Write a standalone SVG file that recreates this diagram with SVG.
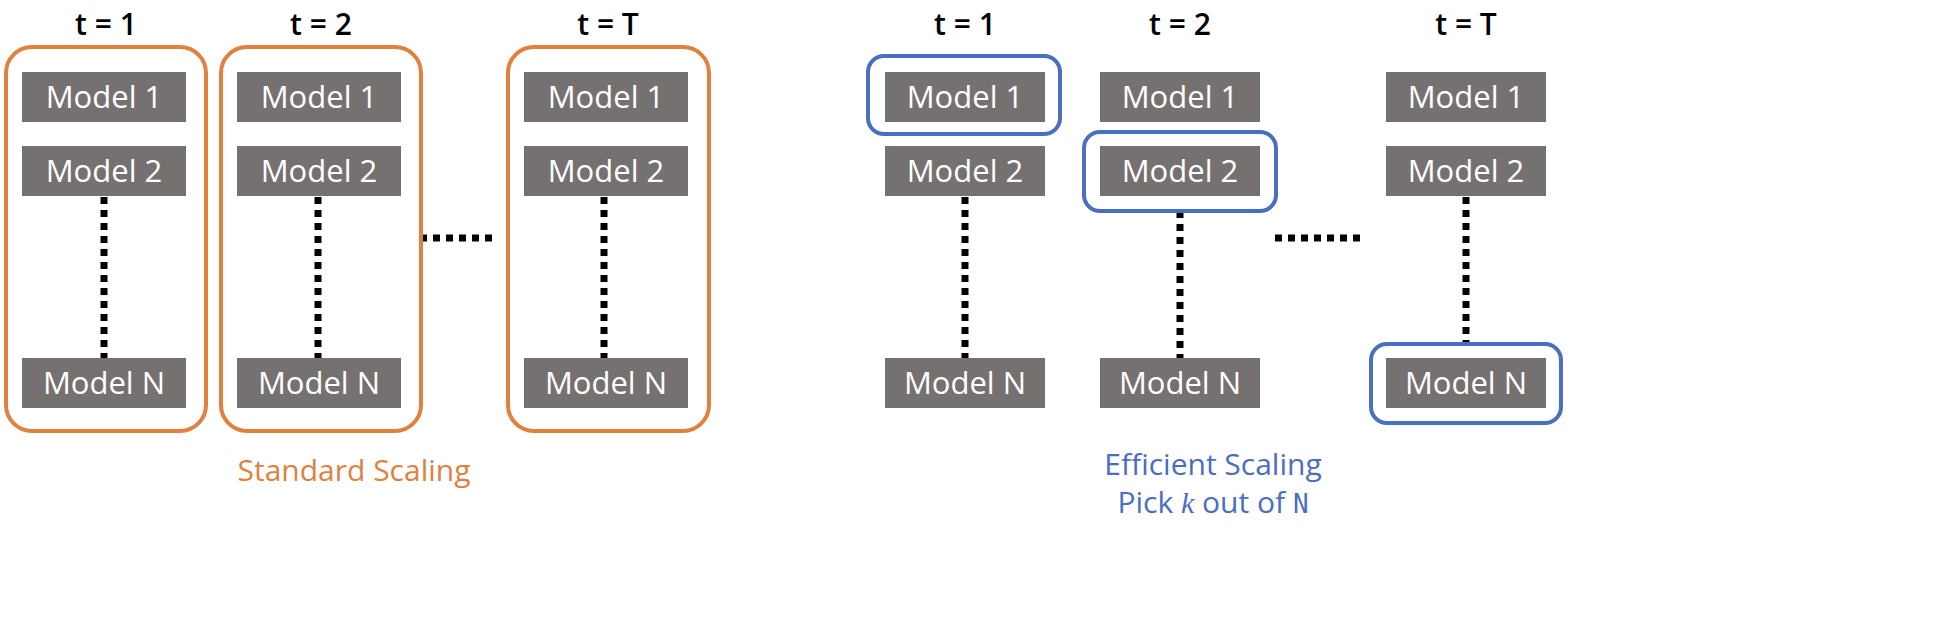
<svg xmlns="http://www.w3.org/2000/svg" width="1937" height="640" viewBox="0 0 1937 640">
<style>
.m{fill:#767171}
.mt{fill:#fff;font-family:"Open Sans","Liberation Sans",sans-serif;font-size:31px;text-anchor:middle}
.t{fill:#000;font-family:"Open Sans","Liberation Sans",sans-serif;font-size:30px;font-weight:600;text-anchor:middle}
.o{fill:none;stroke:#E0813F;stroke-width:4}
.b{fill:none;stroke:#4A6EC0;stroke-width:4}
.d{stroke:#000;stroke-width:7;stroke-dasharray:7 6;fill:none}
</style>
<rect width="1937" height="640" fill="#fff"/>
<g id="connectors">
<path class="d" d="M104 197V358M318 197V358M604 197V358M965 197V358M1180 211V358M1466 197V343M420 238H498M1275 238H1362"/>
</g>
<g id="labels">
<text class="t" x="106" y="35">t = 1</text>
<text class="t" x="321" y="35">t = 2</text>
<text class="t" x="608" y="35">t = T</text>
<text class="t" x="965" y="35">t = 1</text>
<text class="t" x="1180" y="35">t = 2</text>
<text class="t" x="1466" y="35">t = T</text>
<text x="354" y="481" fill="#E0813F" font-family="'Open Sans','Liberation Sans',sans-serif" font-size="30" text-anchor="middle">Standard Scaling</text>
<text x="1213" y="475" fill="#4A6EC0" font-family="'Open Sans','Liberation Sans',sans-serif" font-size="30" text-anchor="middle">Efficient Scaling</text>
<text x="1213" y="513" fill="#4A6EC0" font-family="'Open Sans','Liberation Sans',sans-serif" font-size="30" text-anchor="middle">Pick <tspan font-family="'Liberation Serif',serif" font-style="italic">k</tspan> out of <tspan font-family="'DejaVu Sans Mono',monospace" font-size="26">N</tspan></text>
</g>
<g id="col-std-1"><rect class="o" x="6" y="47" width="200" height="384" rx="26"/>
<rect class="m" x="22" y="72" width="164" height="50"/><text class="mt" x="104" y="108">Model 1</text>
<rect class="m" x="22" y="146" width="164" height="50"/><text class="mt" x="104" y="182">Model 2</text>
<rect class="m" x="22" y="358" width="164" height="50"/><text class="mt" x="104" y="394">Model N</text></g>
<g id="col-std-2"><rect class="o" x="221" y="47" width="200" height="384" rx="26"/>
<rect class="m" x="237" y="72" width="164" height="50"/><text class="mt" x="319" y="108">Model 1</text>
<rect class="m" x="237" y="146" width="164" height="50"/><text class="mt" x="319" y="182">Model 2</text>
<rect class="m" x="237" y="358" width="164" height="50"/><text class="mt" x="319" y="394">Model N</text></g>
<g id="col-std-T"><rect class="o" x="508" y="47" width="201" height="384" rx="26"/>
<rect class="m" x="524" y="72" width="164" height="50"/><text class="mt" x="606" y="108">Model 1</text>
<rect class="m" x="524" y="146" width="164" height="50"/><text class="mt" x="606" y="182">Model 2</text>
<rect class="m" x="524" y="358" width="164" height="50"/><text class="mt" x="606" y="394">Model N</text></g>
<g id="col-eff-1"><rect class="b" x="868" y="56" width="192" height="78" rx="16"/>
<rect class="m" x="885" y="72" width="160" height="50"/><text class="mt" x="965" y="108">Model 1</text>
<rect class="m" x="885" y="146" width="160" height="50"/><text class="mt" x="965" y="182">Model 2</text>
<rect class="m" x="885" y="358" width="160" height="50"/><text class="mt" x="965" y="394">Model N</text></g>
<g id="col-eff-2"><rect class="b" x="1084" y="132" width="192" height="79" rx="16"/>
<rect class="m" x="1100" y="72" width="160" height="50"/><text class="mt" x="1180" y="108">Model 1</text>
<rect class="m" x="1100" y="146" width="160" height="50"/><text class="mt" x="1180" y="182">Model 2</text>
<rect class="m" x="1100" y="358" width="160" height="50"/><text class="mt" x="1180" y="394">Model N</text></g>
<g id="col-eff-T"><rect class="b" x="1371" y="344" width="190" height="79" rx="16"/>
<rect class="m" x="1386" y="72" width="160" height="50"/><text class="mt" x="1466" y="108">Model 1</text>
<rect class="m" x="1386" y="146" width="160" height="50"/><text class="mt" x="1466" y="182">Model 2</text>
<rect class="m" x="1386" y="358" width="160" height="50"/><text class="mt" x="1466" y="394">Model N</text></g>
</svg>
